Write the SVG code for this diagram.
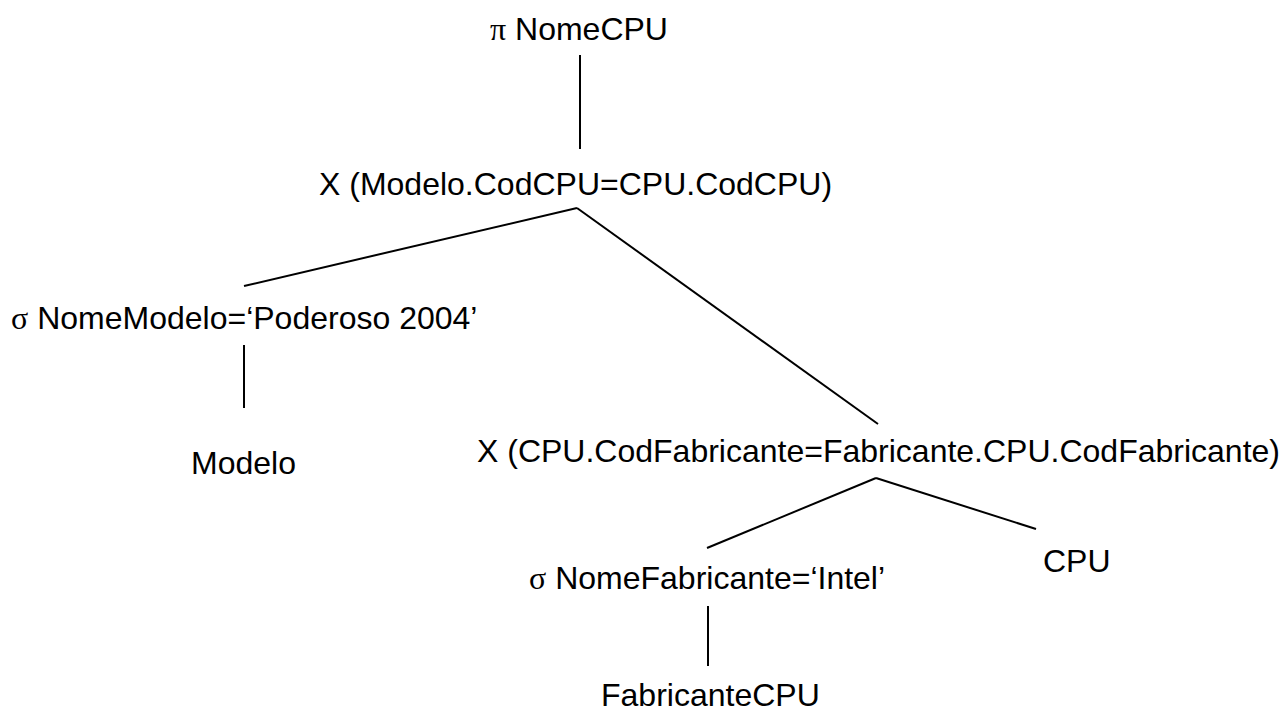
<svg xmlns="http://www.w3.org/2000/svg" width="1283" height="713" viewBox="0 0 1283 713">
<style>
text{font-family:"Liberation Sans",Arial,sans-serif;font-size:32px;fill:#000}
.g{font-family:"Liberation Serif","Times New Roman",serif}
.c line{stroke:#000;stroke-width:2}
</style>
<rect width="1283" height="713" fill="#fff"/>
<g class="c" id="connectors">
<line x1="580" y1="55" x2="580" y2="149"/>
<line x1="577" y1="208" x2="244" y2="286"/>
<line x1="577" y1="208" x2="878" y2="424"/>
<line x1="244" y1="345" x2="244" y2="408"/>
<line x1="876" y1="478" x2="707" y2="548"/>
<line x1="876" y1="478" x2="1036" y2="529"/>
<line x1="708" y1="606" x2="708" y2="666"/>
</g>
<g id="n-proj"><text x="490" y="40"><tspan class="g">π</tspan> NomeCPU</text></g>
<g id="n-join1"><text x="319" y="195">X (Modelo.CodCPU=CPU.CodCPU)</text></g>
<g id="n-sel1"><text x="11" y="329"><tspan class="g">σ</tspan> NomeModelo=‘Poderoso 2004’</text></g>
<g id="n-modelo"><text x="191" y="474">Modelo</text></g>
<g id="n-join2"><text x="477" y="462">X (CPU.CodFabricante=Fabricante.CPU.CodFabricante)</text></g>
<g id="n-sel2"><text x="529" y="589"><tspan class="g">σ</tspan> NomeFabricante=‘Intel’</text></g>
<g id="n-cpu"><text x="1043" y="572">CPU</text></g>
<g id="n-fab"><text x="601" y="706">FabricanteCPU</text></g>
</svg>
